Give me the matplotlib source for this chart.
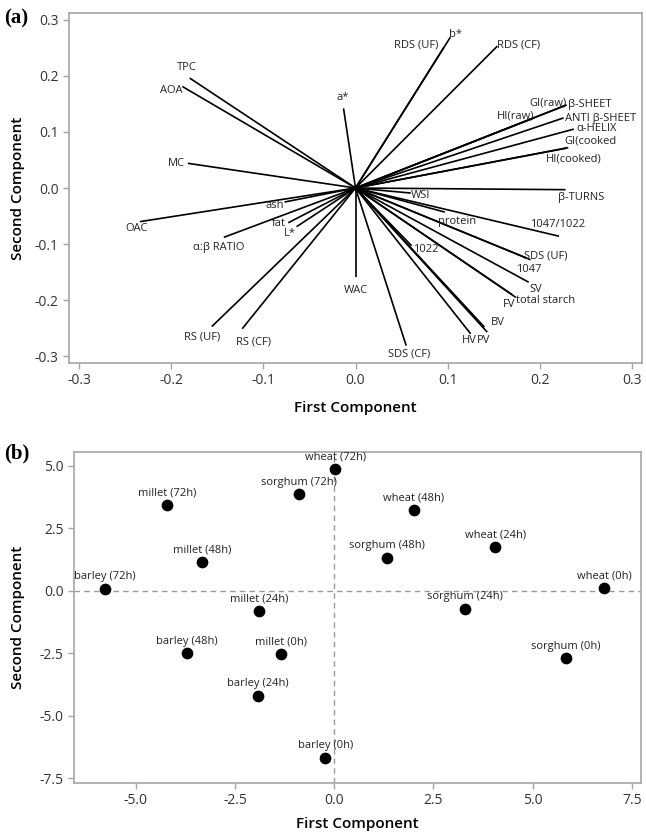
import numpy as np
import matplotlib
matplotlib.use("Agg")
import matplotlib.pyplot as plt

# ---- (a) loading plot: PC1 / PC2 loadings ----
loading_names = ["TPC", "AOA", "MC", "OAC", "α:β RATIO", "ash", "fat", "L*",
                 "RS (UF)", "RS (CF)", "WAC", "a*", "RDS (UF)", "b*", "RDS (CF)",
                 "GI(raw)", "β-SHEET", "HI(raw)", "ANTI β-SHEET", "α-HELIX",
                 "GI(cooked", "HI(cooked)", "β-TURNS", "WSI", "protein",
                 "1047/1022", "SDS (UF)", "1047", "1022", "SV", "FV",
                 "total starch", "BV", "PV", "HV", "SDS (CF)"]
pc1_loadings = [-0.180, -0.188, -0.182, -0.234, -0.143, -0.077, -0.073, -0.064,
                -0.156, -0.123, 0.000, -0.013, 0.096, 0.103, 0.154,
                0.229, 0.229, 0.194, 0.226, 0.237,
                0.231, 0.229, 0.228, 0.060, 0.097,
                0.221, 0.190, 0.186, 0.061, 0.188, 0.170,
                0.174, 0.140, 0.143, 0.125, 0.055]
pc2_loadings = [0.196, 0.181, 0.044, -0.060, -0.088, -0.025, -0.062, -0.069,
                -0.247, -0.251, -0.158, 0.142, 0.251, 0.269, 0.253,
                0.148, 0.148, 0.125, 0.125, 0.105,
                0.072, 0.071, -0.003, -0.009, -0.043,
                -0.086, -0.128, -0.125, -0.103, -0.168, -0.190,
                -0.195, -0.248, -0.257, -0.260, -0.281]

# ---- (b) score plot ----
sample_names = ["wheat (72h)", "sorghum (72h)", "millet (72h)", "wheat (48h)",
                "wheat (24h)", "sorghum (48h)", "millet (48h)", "barley (72h)",
                "wheat (0h)", "millet (24h)", "sorghum (24h)", "barley (48h)",
                "millet (0h)", "sorghum (0h)", "barley (24h)", "barley (0h)"]
pc1_scores = [0.03, -0.89, -4.22, 2.01, 4.06, 1.33, -3.33, -5.78,
              6.80, -1.90, 3.29, -3.72, -1.35, 5.83, -1.92, -0.23]
pc2_scores = [4.87, 3.86, 3.44, 3.22, 1.77, 1.33, 1.14, 0.09,
              0.13, -0.80, -0.72, -2.49, -2.53, -2.70, -4.19, -6.68]

# label offsets (pixels) and horizontal alignment for the loading labels
label_style = {
    "TPC": (-3, 11, "center"), "AOA": (0, -4, "right"), "MC": (-3, 0, "right"),
    "OAC": (-3, -7, "center"), "α:β RATIO": (-5, -10, "center"),
    "ash": (-1, -3, "right"), "fat": (-2, -1, "right"), "L*": (-1, -7, "right"),
    "RS (UF)": (-10, -10, "center"), "RS (CF)": (11, -13, "center"),
    "WAC": (0, -14, "center"), "a*": (-1, 11, "center"),
    "RDS (UF)": (-6, 2, "right"), "b*": (-1, 3, "left"), "RDS (CF)": (0, 1, "left"),
    "GI(raw)": (0, 2, "right"), "β-SHEET": (2, 0, "left"), "HI(raw)": (0, 2, "right"),
    "ANTI β-SHEET": (1, -1, "left"), "α-HELIX": (3, 1, "left"),
    "GI(cooked": (-4, 7, "left"), "HI(cooked)": (7, -11, "center"),
    "β-TURNS": (-8, -8, "left"), "WSI": (0, -2, "left"), "protein": (-7, -9, "left"),
    "1047/1022": (-1, 12, "center"), "SDS (UF)": (-7, 4, "left"),
    "1047": (2, -11, "center"), "1022": (1, -4, "left"), "SV": (1, -7, "left"),
    "FV": (-3, -10, "center"), "total starch": (0, -3, "left"),
    "BV": (6, 5, "left"), "PV": (-4, -8, "center"), "HV": (-1, -7, "center"),
    "SDS (CF)": (3, -8, "center"),
}

plt.rcParams["font.family"] = ["Open Sans", "DejaVu Sans"]
W, H = 646, 835
fig = plt.figure(figsize=(W / 100, H / 100), dpi=100)

spine_col = "#a6a6a6"
tick_col = "#333333"


def style_axes(ax):
    for s in ax.spines.values():
        s.set_color(spine_col)
        s.set_linewidth(1.2)
    ax.tick_params(axis="both", direction="out", length=4, width=1,
                   color=spine_col, labelcolor=tick_col, labelsize=10,
                   top=False, right=False)


def px_axes(left, top, right, bottom):
    return fig.add_axes([left / W, 1 - bottom / H, (right - left) / W, (bottom - top) / H])


def axis_labels(ax, xlab_y, ylab_x):
    ax.set_xlabel("First Component", fontsize=11, fontweight="semibold")
    ax.set_ylabel("Second Component", fontsize=11, fontweight="semibold")
    ax.xaxis.label.set_verticalalignment("center")
    ax.yaxis.label.set_verticalalignment("center")
    ax.xaxis.set_label_coords(0.5, xlab_y)
    ax.yaxis.set_label_coords(ylab_x, 0.5)


# ---------- panel (a) ----------
ax1 = px_axes(69, 13, 642, 363)
for name, x, y in zip(loading_names, pc1_loadings, pc2_loadings):
    ax1.plot([0, x], [0, y], color="black", lw=1.2, solid_capstyle="butt")
    dx, dy, ha = label_style[name]
    ax1.annotate(name, (x, y), xytext=(dx, dy), textcoords="offset pixels",
                 ha=ha, va="center", fontsize=8, color="#222222")
ax1.set_xlim(-0.311, 0.311)
ax1.set_ylim(-0.312, 0.312)
ax1.set_xticks(np.arange(-0.3, 0.31, 0.1))
ax1.set_yticks(np.arange(-0.3, 0.31, 0.1))
ax1.xaxis.set_major_formatter(matplotlib.ticker.FormatStrFormatter("%.1f"))
ax1.yaxis.set_major_formatter(matplotlib.ticker.FormatStrFormatter("%.1f"))
style_axes(ax1)
axis_labels(ax1, -(408 - 363) / 350, -(69 - 18) / 573)

# ---------- panel (b) ----------
ax2 = px_axes(74, 452, 641, 783)
ax2.axhline(0, color="#9a9a9a", lw=1, ls=(0, (4, 3)), zorder=1)
ax2.axvline(0, color="#9a9a9a", lw=1, ls=(0, (4, 3)), zorder=1)
ax2.scatter(pc1_scores, pc2_scores, s=55, color="black", zorder=3)
for name, x, y in zip(sample_names, pc1_scores, pc2_scores):
    ax2.annotate(name, (x, y), xytext=(0, 12), textcoords="offset pixels",
                 ha="center", va="center", fontsize=8, color="#222222")
ax2.set_xlim(-6.56, 7.73)
ax2.set_ylim(-7.69, 5.56)
ax2.set_xticks(np.arange(-5, 7.6, 2.5))
ax2.set_yticks(np.arange(-7.5, 5.1, 2.5))
ax2.xaxis.set_major_formatter(matplotlib.ticker.FormatStrFormatter("%.1f"))
ax2.yaxis.set_major_formatter(matplotlib.ticker.FormatStrFormatter("%.1f"))
style_axes(ax2)
axis_labels(ax2, -(824 - 783) / 331, -(74 - 18) / 567)

fig.text(4 / W, 1 - 18 / H, "(a)", fontsize=15, fontweight="bold",
         family="Liberation Serif", va="center", ha="left")
fig.text(4 / W, 1 - 453 / H, "(b)", fontsize=15, fontweight="bold",
         family="Liberation Serif", va="center", ha="left")

fig.savefig("out.png", dpi=100)
